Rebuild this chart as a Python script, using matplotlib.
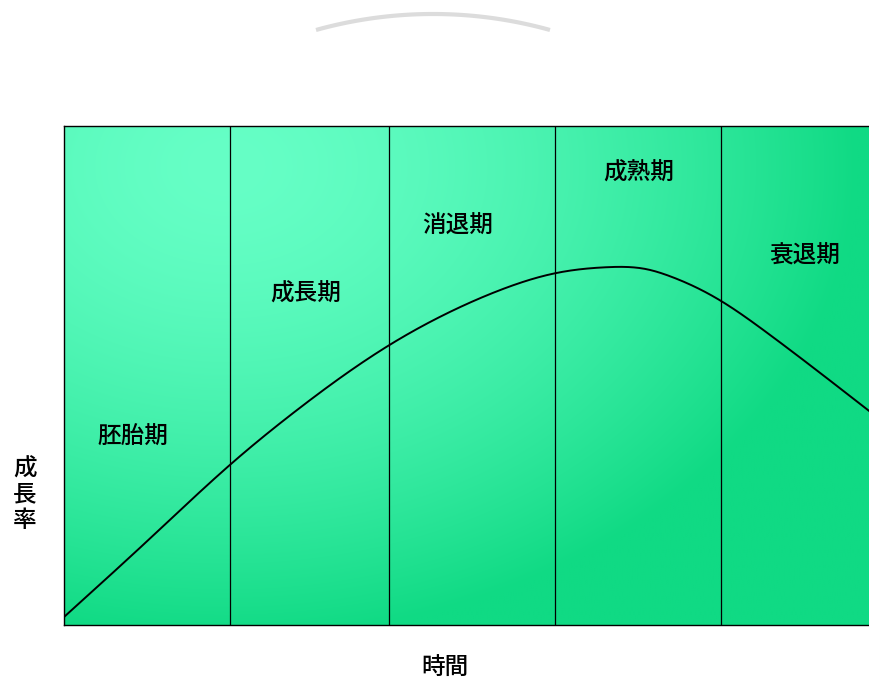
import numpy as np
import matplotlib
matplotlib.use("Agg")
import matplotlib.pyplot as plt

plt.rcParams['font.family'] = ['Noto Sans CJK JP', 'DejaVu Sans']

# ---- data ----
time_pts = [0.0, 0.52, 1.0, 1.42, 1.96, 2.31, 2.61, 2.96, 3.27, 3.51, 3.65, 3.95, 4.23, 4.54, 4.85]
growth_pts = [1.6, 17.4, 32.1, 43.5, 56.1, 62.5, 66.9, 70.5, 71.7, 71.3, 69.9, 65.1, 58.7, 50.9, 42.9]
stage_bounds = [1.0, 1.96, 2.96, 3.96]
stage_names = ['胚胎期', '成長期', '消退期', '成熟期', '衰退期']
x_label = '時間'
y_label = '成長率'

# label layout (data coords)
stage_label_pos = [(0.416, 37.7), (1.458, 66.3), (2.373, 80.0), (3.464, 90.6), (4.464, 73.9)]

W, H = 869, 682
fig = plt.figure(figsize=(W / 100, H / 100), dpi=100)
fig.patch.set_facecolor('white')

ax_left, ax_right, ax_top, ax_bot = 64, 874, 126, 625
ax = fig.add_axes([ax_left / W, (H - ax_bot) / H, (ax_right - ax_left) / W, (ax_bot - ax_top) / H])
xmax = (ax_right - ax_left) / 166.0
ax.set_xlim(0, xmax)
ax.set_ylim(0, 100)

# gradient background
nx, ny = 400, 250
u = np.linspace(0, 1, nx)[None, :]
v = np.linspace(0, 1, ny)[:, None]  # from top
u0, v0, rx, ry = 0.20, 0.08, 0.78, 0.95
t = np.sqrt(((u - u0) / rx) ** 2 + ((v - v0) / ry) ** 2)
t = np.clip(t, 0, 1) ** 1.6
c0 = np.array([102, 255, 198]) / 255
c1 = np.array([16, 218, 132]) / 255
img = c0[None, None, :] * (1 - t[..., None]) + c1[None, None, :] * t[..., None]
ax.imshow(img, extent=[0, xmax, 0, 100], aspect='auto', origin='upper', zorder=0, interpolation='bilinear')

# stage boundaries
for b in stage_bounds:
    ax.axvline(b, color='black', lw=0.9, zorder=2)

# natural cubic spline through the read points
def natural_spline(xs, ys, n=600):
    x = np.asarray(xs, float); y = np.asarray(ys, float)
    k = len(x); h = np.diff(x)
    A = np.zeros((k, k)); r = np.zeros(k)
    A[0, 0] = A[-1, -1] = 1
    for i in range(1, k - 1):
        A[i, i - 1] = h[i - 1]; A[i, i] = 2 * (h[i - 1] + h[i]); A[i, i + 1] = h[i]
        r[i] = 3 * ((y[i + 1] - y[i]) / h[i] - (y[i] - y[i - 1]) / h[i - 1])
    c = np.linalg.solve(A, r)
    b = (y[1:] - y[:-1]) / h - h * (2 * c[:-1] + c[1:]) / 3
    d = (c[1:] - c[:-1]) / (3 * h)
    xx = np.linspace(x[0], x[-1], n)
    idx = np.clip(np.searchsorted(x, xx) - 1, 0, k - 2)
    dx = xx - x[idx]
    yy = y[idx] + b[idx] * dx + c[idx] * dx ** 2 + d[idx] * dx ** 3
    return xx, yy

cx_, cy_ = natural_spline(time_pts, growth_pts)
ax.plot(cx_, cy_, color='black', lw=1.4, zorder=3)

for name, (lx, ly) in zip(stage_names, stage_label_pos):
    ax.text(lx, ly, name, ha='center', va='center', fontsize=17, fontweight='medium', color='black', zorder=4)

ax.set_xticks([])
ax.set_yticks([])
for s in ['left', 'top', 'bottom', 'right']:
    ax.spines[s].set_color('black')
    ax.spines[s].set_linewidth(1.0)

fig.text(445 / W, 1 - 668 / H, x_label, ha='center', va='center', fontsize=17, fontweight='medium')
fig.text(25 / W, 1 - 495 / H, '\n'.join(y_label), ha='center', va='center', fontsize=17,
         fontweight='medium', linespacing=1.15)

# decorative arc at top
ov = fig.add_axes([0, 0, 1, 1], zorder=-1)
ov.set_xlim(0, W)
ov.set_ylim(H, 0)
ov.axis('off')
R = 436.0
acx, acy = 433.0, 14.0 + R
th = np.linspace(np.pi * 1.2, np.pi * 1.8, 400)
axp = acx + R * np.cos(th)
ayp = acy + R * np.sin(th)
m = ayp <= 30
ov.plot(axp[m], ayp[m], color='#dcdcdc', lw=3, solid_capstyle='butt')

fig.savefig('out.png', dpi=100, facecolor='white')
